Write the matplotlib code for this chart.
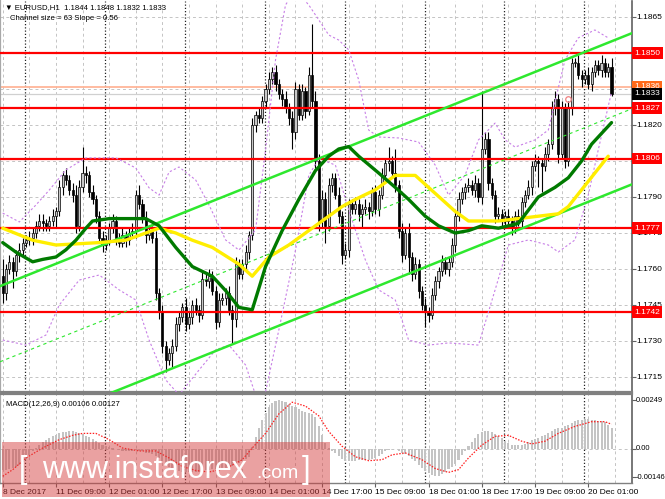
import matplotlib
matplotlib.use('Agg')
import matplotlib.pyplot as plt
from matplotlib.patches import Rectangle

# ---------------- data ----------------
first_open = 1.1757
closes = [
    1.1750, 1.1760, 1.1763, 1.1759, 1.1766, 1.1768, 1.1771, 1.1772,
    1.1773, 1.1775, 1.1778, 1.1780, 1.1779, 1.1778, 1.1780, 1.1782,
    1.1784, 1.1794, 1.1799, 1.1797, 1.1793, 1.1791, 1.1778, 1.1794,
    1.1800, 1.1799, 1.1792, 1.1789, 1.1782, 1.1773, 1.1770, 1.1772,
    1.1777, 1.1780, 1.1773, 1.1771, 1.1774, 1.1772, 1.1775, 1.1776,
    1.1791, 1.1787, 1.1781, 1.1774, 1.1776, 1.1773, 1.1750, 1.1742,
    1.1728, 1.1722, 1.1725, 1.1728, 1.1737, 1.1740, 1.1744, 1.1737,
    1.1740, 1.1745, 1.1743, 1.1741, 1.1756, 1.1755, 1.1757, 1.1751,
    1.1738, 1.1747, 1.1748, 1.1750, 1.1743, 1.1739, 1.1762, 1.1758,
    1.1762, 1.1767, 1.1774, 1.1820, 1.1824, 1.1823, 1.1830, 1.1835,
    1.1839, 1.1842, 1.1837, 1.1833, 1.1831, 1.1827, 1.1823, 1.1817,
    1.1835, 1.1824, 1.1834, 1.1826, 1.1841, 1.1830, 1.1805, 1.1780,
    1.1789, 1.1778, 1.1795, 1.1798, 1.1791, 1.1782, 1.1766, 1.1768,
    1.1787, 1.1785, 1.1787, 1.1783, 1.1785, 1.1786, 1.1784, 1.1792,
    1.1785, 1.1791, 1.1799, 1.1804, 1.1805, 1.1800, 1.1795, 1.1776,
    1.1766, 1.1775, 1.1765, 1.1758, 1.1762, 1.1751, 1.1745, 1.1742,
    1.1741, 1.1749, 1.1755, 1.1759, 1.1763, 1.1760, 1.1763, 1.1770,
    1.1782, 1.1789, 1.1792, 1.1794, 1.1795, 1.1793, 1.1796, 1.1790,
    1.1810, 1.1814, 1.1796, 1.1791, 1.1782, 1.1783, 1.1780, 1.1782,
    1.1780, 1.1777, 1.1782, 1.1780, 1.1788, 1.1791, 1.1794, 1.1803,
    1.1805, 1.1804, 1.1803, 1.1808, 1.1812, 1.1827, 1.1831, 1.1808,
    1.1827, 1.1805, 1.1827, 1.1846, 1.1846, 1.1841, 1.1839, 1.1841,
    1.1837, 1.1842, 1.1845, 1.1843, 1.1846, 1.1842, 1.1844, 1.1833,
]
# wick lengths above / below the body, in pips
wick_up = [
    7, 2, 3, 2, 2, 3, 2, 2,   3, 2, 2, 3, 3, 2, 2, 3,
    2, 3, 2, 3, 2, 3, 4, 3,   11, 3, 2, 3, 2, 2, 3, 2,
    2, 3, 2, 2, 3, 2, 2, 3,   2, 4, 2, 3, 2, 2, 3, 2,
    3, 2, 2, 3, 3, 2, 2, 4,   2, 2, 3, 2, 3, 2, 3, 2,
    2, 3, 2, 2, 3, 2, 3, 2,   2, 3, 2, 3, 2, 3, 2, 2,
    3, 2, 3, 2, 2, 3, 2, 3,   3, 2, 3, 2, 3, 21, 4, 3,
    4, 3, 3, 2, 2, 3, 2, 3,   2, 2, 3, 2, 2, 3, 2, 2,
    3, 2, 3, 2, 6, 2, 10, 2,  3, 2, 4, 2, 3, 2, 2, 3,
    2, 3, 2, 2, 3, 2, 2, 3,   2, 3, 2, 2, 3, 2, 3, 2,
    24, 3, 3, 2, 2, 3, 2, 2,  3, 2, 2, 3, 2, 2, 3, 2,
    3, 2, 2, 3, 2, 3, 3, 2,   3, 2, 3, 2, 2, 3, 2, 2,
    3, 2, 2, 2, 3, 2, 2, 4,
]
wick_dn = [
    4, 3, 2, 7, 2, 3, 2, 2,   2, 3, 2, 2, 3, 2, 2, 2,
    5, 2, 3, 2, 2, 3, 3, 2,   2, 3, 2, 2, 3, 2, 3, 2,
    2, 2, 3, 2, 2, 3, 2, 2,   3, 2, 2, 3, 2, 2, 3, 3,
    3, 5, 2, 6, 2, 3, 2, 3,   2, 3, 2, 3, 2, 2, 3, 2,
    3, 2, 2, 3, 2, 10, 3, 2,  2, 2, 3, 2, 3, 2, 2, 3,
    2, 2, 3, 2, 3, 2, 3, 7,   3, 2, 2, 3, 2, 3, 3, 4,
    3, 7, 2, 3, 2, 3, 4, 2,   3, 2, 2, 3, 6, 2, 3, 2,
    2, 3, 2, 2, 3, 2, 3, 3,   3, 2, 7, 3, 2, 3, 2, 6,
    3, 2, 2, 3, 2, 2, 3, 2,   3, 2, 2, 3, 2, 2, 3, 2,
    3, 2, 3, 2, 3, 2, 2, 3,   2, 3, 2, 2, 3, 2, 2, 3,
    2, 10, 11, 2, 3, 2, 3, 4, 2, 3, 2, 3, 2, 2, 3, 2,
    2, 3, 2, 2, 3, 2, 2, 1,
]

# moving averages (sampled along the curve: bar index, price)
green_bars = [0, 4, 9, 12, 16, 19, 22, 25, 27, 32, 38, 43, 47, 52, 57, 63, 67, 71, 75, 79, 84, 89,
              94, 98, 101, 104, 107, 113, 118, 122, 127, 131, 136, 140, 144, 149, 155, 161, 166,
              170, 174, 177, 183]
green_vals = [1.1771, 1.1767, 1.1763, 1.1764, 1.1765, 1.1768, 1.1772, 1.1777, 1.1780, 1.1781, 1.1781,
              1.1781, 1.1778, 1.1769, 1.1761, 1.1757, 1.1751, 1.1744, 1.1743, 1.1761, 1.1776, 1.1789,
              1.1801, 1.1807, 1.1810, 1.1811, 1.1807, 1.1800, 1.1794, 1.1789, 1.1782, 1.1778, 1.1775,
              1.1776, 1.1778, 1.1777, 1.1779, 1.1790, 1.1794, 1.1798, 1.1805, 1.1812, 1.1821]
yellow_bars = [0, 9, 16, 29, 37, 43, 47, 52, 57, 63, 71, 75, 80, 86, 92, 97, 102, 106, 112, 115, 118,
               124, 128, 132, 136, 140, 149, 161, 167, 170, 174, 178, 182]
yellow_vals = [1.1777, 1.1772, 1.1770, 1.1771, 1.1772, 1.1775, 1.1777, 1.1775, 1.1772, 1.1769, 1.1762,
               1.1757, 1.1765, 1.1770, 1.1776, 1.1781, 1.1786, 1.1789, 1.1793, 1.1796, 1.1799, 1.1799,
               1.1794, 1.1789, 1.1784, 1.1780, 1.1780, 1.1782, 1.1783, 1.1786, 1.1793, 1.1800, 1.1807]

# purple dotted bands
upper_bars = [0, 5, 10, 14, 19, 25, 34, 40, 44, 47, 50, 53, 58, 62, 67, 71, 76, 79, 82, 85, 88, 92,
              95, 98, 101, 104, 107, 110, 113, 119, 125, 130, 134, 139, 143, 148, 151, 154, 160, 164,
              169, 173, 178, 182]
upper_vals = [1.17833, 1.17796, 1.17867, 1.17929, 1.18013, 1.18063, 1.18063, 1.18021, 1.17938,
              1.17908, 1.18004, 1.18025, 1.17971, 1.17867, 1.17721, 1.17679, 1.17763, 1.18096,
              1.18471, 1.18700, 1.18763, 1.18700, 1.18638, 1.18575, 1.18554, 1.18513, 1.18388,
              1.18179, 1.18150, 1.18146, 1.18129, 1.18033, 1.17908, 1.17992, 1.18138, 1.18208,
              1.18138, 1.18108, 1.18138, 1.18179, 1.18471, 1.18563, 1.18596, 1.18563]
lower_bars = [0, 7, 13, 17, 23, 29, 35, 40, 44, 49, 53, 59, 64, 68, 73, 76, 79, 83, 88, 92, 95, 100,
              104, 109, 113, 118, 122, 128, 134, 143, 148, 152, 158, 164, 167, 172, 176, 179, 183]
lower_vals = [1.17304, 1.17283, 1.17325, 1.17450, 1.17554, 1.17575, 1.17513, 1.17471, 1.17304,
              1.17138, 1.17075, 1.17179, 1.17263, 1.17283, 1.17200, 1.17075, 1.17088, 1.17346,
              1.17679, 1.17990, 1.18060, 1.18033, 1.17846, 1.17638, 1.17513, 1.17471, 1.17304,
              1.17283, 1.17292, 1.17283, 1.17513, 1.17700, 1.17721, 1.17700, 1.17671, 1.17721,
              1.17908, 1.18096, 1.18338]

# regression channel
channel_upper_start = 1.17533   # upper line at first bar
channel_slope_pips = 0.555      # pips per bar
channel_size_pips = 63

# horizontal levels
red_levels = [1.1850, 1.1827, 1.1806, 1.1777, 1.1742]
ask_price = 1.1836
bid_price = 1.1833
alert_bar, alert_price = 170, 1.1831

# MACD (units of 0.00001)
macd_main = [
    -110, -108, -105, -100, -92, -82, -68, -50,
    -30, -12, 5, 20, 35, 45, 55, 65,
    72, 80, 85, 88, 90, 90, 88, 82,
    75, 68, 60, 52, 42, 32, 22, 15,
    10, 5, 0, -5, -8, -10, -10, -8,
    -5, -8, -12, -18, -22, -28, -35, -45,
    -60, -75, -90, -100, -110, -115, -118, -120,
    -120, -120, -118, -116, -112, -110, -106, -104,
    -104, -102, -100, -96, -92, -88, -80, -70,
    -60, -52, -40, 10, 60, 110, 150, 185,
    215, 235, 248, 249, 245, 240, 232, 222,
    215, 205, 195, 190, 185, 180, 165, 120,
    70, 30, 5, -10, -20, -35, -50, -60,
    -62, -62, -60, -58, -58, -56, -55, -50,
    -45, -35, -25, -12, -5, 0, -2, -10,
    -20, -28, -38, -50, -62, -80, -100, -115,
    -125, -135, -140, -138, -130, -118, -105, -90,
    -75, -55, -30, -10, 15, 35, 55, 75,
    85, 90, 90, 85, 75, 65, 55, 42,
    32, 22, 18, 18, 22, 28, 38, 45,
    52, 58, 65, 72, 80, 90, 105, 110,
    110, 118, 125, 135, 142, 148, 150, 152,
    152, 150, 148, 146, 145, 140, 125, 106,
]
sig_bars = [0, 3, 7, 12, 17, 21, 24, 28, 32, 36, 41, 46, 50, 54, 58, 62, 67, 72, 75, 79, 83, 87, 91,
            95, 98, 102, 106, 110, 114, 117, 121, 126, 130, 134, 137, 140, 144, 148, 152, 156, 159,
            163, 167, 172, 177, 181, 183]
sig_vals = [-140, -106, -46, 5, 48, 70, 80, 80, 48, 5, -10, -10, -46, -90, -110, -118, -100, -55, 5,
            80, 180, 240, 220, 170, 90, 14, -40, -60, -55, -30, -20, -55, -100, -120, -106, -46,
            20, 65, 70, 40, 26, 40, 80, 116, 140, 140, 127]

grid_prices = [1.1715, 1.1730, 1.1745, 1.1760, 1.1775, 1.1790, 1.1805, 1.1820, 1.1835, 1.1850, 1.1865]
grid_labels_shown = [1.1715, 1.1730, 1.1745, 1.1760, 1.1775, 1.1790, 1.1805, 1.1820, 1.1865]
tick_bars = [0, 16, 32, 48, 64, 80, 96, 112, 128, 144, 160, 176]
tick_labels = ['8 Dec 2017', '11 Dec 09:00', '12 Dec 01:00', '12 Dec 17:00', '13 Dec 09:00',
               '14 Dec 01:00', '14 Dec 17:00', '15 Dec 09:00', '18 Dec 01:00', '18 Dec 17:00',
               '19 Dec 09:00', '20 Dec 01:00']
day_start_bars = [7, 31, 55, 79, 103, 127, 151, 175]
minor_grid_bars = list(range(0, 190, 8))

# ---------------- figure ----------------
W, H = 665, 499
FONT = ['Liberation Sans', 'DejaVu Sans']
plt.rcParams['font.family'] = FONT

fig = plt.figure(figsize=(6.65, 4.99), dpi=100)
fig.patch.set_facecolor('white')


def px_rect(x0, y0, x1, y1):
    return [x0 / W, 1 - y1 / H, (x1 - x0) / W, (y1 - y0) / H]


ax = fig.add_axes(px_rect(0, 1, 632, 392))
ax2 = fig.add_axes(px_rect(0, 394, 632, 483))
XL = (-0.815, 189.15)
for a in (ax, ax2):
    a.set_xlim(*XL)
    a.set_facecolor('white')
ax.set_ylim(1.170875, 1.1871667)
ax2.set_ylim(-0.001744, 0.00282)

n = len(closes)
opens = [first_open] + closes[:-1]
pip = 0.0001

# grid
for p in grid_prices:
    ax.axhline(p, color='#c4c4c4', lw=0.7, ls=(0, (3, 3)), zorder=0.5)
for b in minor_grid_bars:
    for a in (ax, ax2):
        a.axvline(b, color='#c4c4c4', lw=0.7, ls=(0, (3, 3)), zorder=0.5)
for b in day_start_bars:
    for a in (ax, ax2):
        a.axvline(b - 0.2, color='#222222', lw=0.9, ls=(0, (1, 1.6)), zorder=0.6)
ax2.axhline(0, color='#c4c4c4', lw=0.7, ls=(0, (3, 3)), zorder=0.5)

# ask / bid lines
ax.axhline(ask_price, color='#ffb598', lw=1.3, zorder=1)
ax.axhline(bid_price, color='#d0d0d0', lw=0.9, zorder=1)

# candles
for i in range(n):
    o, c = opens[i], closes[i]
    top, bot = max(o, c), min(o, c)
    hi = top + wick_up[i] * pip
    lo = bot - wick_dn[i] * pip
    ax.plot([i, i], [lo, hi], color='black', lw=0.8, zorder=2, solid_capstyle='butt')
    h = max(top - bot, 0.00003)
    bull = c >= o
    ax.add_patch(Rectangle((i - 0.32, bot), 0.64, h,
                           facecolor='#c8c8c8' if bull else 'black',
                           edgecolor='black', lw=0.5, zorder=2.1))

# red levels
for p in red_levels:
    ax.axhline(p, color='#ff0000', lw=1.6, zorder=3)

# channel
ch_x = [XL[0], XL[1]]
up_line = [channel_upper_start + channel_slope_pips * pip * x for x in ch_x]
mid_line = [v - channel_size_pips * pip / 2 for v in up_line]
low_line = [v - channel_size_pips * pip for v in up_line]
ax.plot(ch_x, up_line, color='#2ee82e', lw=1.8, zorder=4)
ax.plot(ch_x, low_line, color='#2ee82e', lw=1.8, zorder=4)
ax.plot(ch_x, mid_line, color='#2ee82e', lw=0.8, ls=(0, (3, 3)), zorder=4)

# bands
ax.plot(upper_bars, upper_vals, color='#c77fe6', lw=0.8, ls=(0, (2, 2)), zorder=3.5)
ax.plot(lower_bars, lower_vals, color='#c77fe6', lw=0.8, ls=(0, (2, 2)), zorder=3.5)

# moving averages
ax.plot(yellow_bars, yellow_vals, color='#ffee00', lw=2.4, zorder=4.2, solid_capstyle='round')
ax.plot(green_bars, green_vals, color='#007a00', lw=2.4, zorder=4.3, solid_capstyle='round')

# alert marker
ax.plot([alert_bar], [alert_price], 'o', ms=4, mfc='none', mec='#f08080', mew=0.9, zorder=5)

# axes style
for a in (ax, ax2):
    a.set_xticks([])
    for s in a.spines.values():
        s.set_color('#808080')
    a.spines['left'].set_linewidth(1.6)
    a.spines['left'].set_color('#a8a8a8')
    a.spines['right'].set_linewidth(1.2)
    a.spines['right'].set_color('#606060')
ax.spines['top'].set_visible(False)
ax.spines['bottom'].set_linewidth(1.6)
ax2.spines['top'].set_linewidth(1.6)
ax2.spines['bottom'].set_linewidth(1.0)

ax.set_yticks(grid_prices)
ax.tick_params(axis='y', left=False, right=True, labelleft=False, labelright=False,
               length=3, width=0.8, color='#606060')
ax2.set_yticks([0.00249, 0.0, -0.00146])
ax2.tick_params(axis='y', left=False, right=True, labelleft=False, labelright=False,
                length=3, width=0.8, color='#606060')
ax2.set_xticks(tick_bars)
ax2.set_xticklabels(tick_labels, fontsize=6)
ax2.tick_params(axis='x', length=3, width=0.8, color='#606060', pad=1.5)
for lbl in ax2.get_xticklabels():
    lbl.set_ha('left')

ytr = ax.get_yaxis_transform()
for p in grid_labels_shown:
    ax.text(1.0065, p, f'{p:.4f}', transform=ytr, fontsize=6, va='center', ha='left',
            color='black', clip_on=False, zorder=6)


def box(p, color):
    ax.text(1.0035, p, f'{p:.4f}', transform=ytr, fontsize=6, va='center', ha='left',
            color='white', clip_on=False, zorder=8,
            bbox=dict(boxstyle='square,pad=0.28', fc=color, ec='none'))


for p in red_levels:
    box(p, '#ff0000')
box(ask_price, '#ff6a1a')
box(bid_price, '#000000')

ytr2 = ax2.get_yaxis_transform()
for v, s in [(0.00249, '0.00249'), (0.0, '0.00'), (-0.00146, '-0.00146')]:
    ax2.text(1.0055, v, s, transform=ytr2, fontsize=5.4, va='center', ha='left', clip_on=False)

# MACD
ax2.bar(range(n), [v * 1e-5 for v in macd_main], width=0.62, color='#c4c4c4', zorder=2)
ax2.plot(sig_bars, [v * 1e-5 for v in sig_vals], color='#ff2020', lw=0.9,
         ls=(0, (1.2, 1.2)), zorder=3)

# header texts
fig.text(5 / W, 1 - 8 / H, '\u25bc EURUSD,H1  1.1844 1.1848 1.1832 1.1833', fontsize=5.6,
         va='center', ha='left', family=FONT)
fig.text(10 / W, 1 - 19 / H, 'Channel size = 63 Slope = 0.56', fontsize=5.6, va='center', ha='left')
fig.text(6 / W, 1 - 404 / H, 'MACD(12,26,9) 0.00106 0.00127', fontsize=5.6, va='center', ha='left')

# watermark banner
fig.patches.append(Rectangle((2 / W, 1 - 497 / H), 328 / W, 55 / H, transform=fig.transFigure,
                             facecolor='#d43c3c', alpha=0.48, edgecolor='none', zorder=10))
fig.text(19 / W, 1 - 478 / H, '[', fontsize=22, color='white', va='baseline', ha='left', zorder=11)
fig.text(42 / W, 1 - 478 / H, 'www.instaforex', fontsize=22, color='white', va='baseline',
         ha='left', zorder=11)
fig.text(256 / W, 1 - 478 / H, '.com', fontsize=14, color='white', va='baseline', ha='left',
         zorder=11)
fig.text(302 / W, 1 - 478 / H, ']', fontsize=22, color='white', va='baseline', ha='left', zorder=11)

fig.savefig('out.png', dpi=100, facecolor='white')
